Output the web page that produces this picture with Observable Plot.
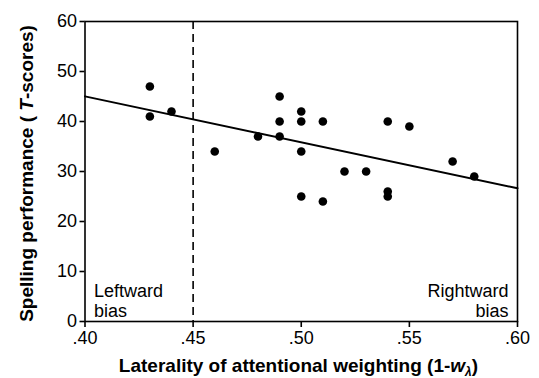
<!DOCTYPE html>
<html><head><meta charset="utf-8">
<script src="https://cdn.jsdelivr.net/npm/d3@7"></script>
<script src="https://cdn.jsdelivr.net/npm/@observablehq/plot@0.6"></script>
<style>body{margin:0;background:#fff}svg text{font-family:"Liberation Sans",Arial,sans-serif}</style>
</head><body><div id="chart"></div>
<script>
// Laterality of attentional weighting (1 - w_lambda)
const laterality = [0.43,0.43,0.44,0.46,0.48,0.49,0.49,0.49,0.50,0.50,0.50,0.50,0.51,0.51,0.52,0.53,0.54,0.54,0.54,0.55,0.57,0.58];
// Spelling performance (T-scores)
const spelling   = [47,41,42,34,37,45,40,37,42,40,34,25,40,24,30,30,40,26,25,39,32,29];
const xTicks = [0.40,0.45,0.50,0.55,0.60];
const yTicks = [0,10,20,30,40,50,60];
const cutoff = [0.45];
const biasLabels = ["Leftward\nbias","Rightward\nbias"];
const biasX = [0.40,0.60];

const points = laterality.map((x,i)=>({x, y: spelling[i]}));
// ordinary least squares fit, drawn across the x domain
const mx = d3.mean(laterality), my = d3.mean(spelling);
const slope = d3.sum(points, p=>(p.x-mx)*(p.y-my)) / d3.sum(points, p=>(p.x-mx)**2);
const fit = biasX.map(x=>({x, y: my + slope*(x-mx)}));

const font = '"Liberation Sans", Arial, sans-serif';
const chart = Plot.plot({
  width: 539, height: 378,
  marginLeft: 84.5, marginRight: 22, marginTop: 21, marginBottom: 57,
  style: {fontFamily: font, fontSize: "18px", color: "#000", background: "#fff"},
  x: {domain: [0.40,0.60]},
  y: {domain: [0,60]},
  marks: [
    Plot.ruleX(cutoff, {stroke:"#000", strokeWidth:1.6, strokeDasharray:"8,5"}),
    Plot.line(fit, {x:"x", y:"y", stroke:"#000", strokeWidth:2}),
    Plot.dot(points, {x:"x", y:"y", r:4.3, fill:"#000", stroke:"none"}),
    Plot.text(biasLabels.map((t,i)=>({t, x: biasX[i]})), {
      x:"x", y: ()=>0, text:"t", lineAnchor:"bottom", lineHeight:1.11, fontSize:18,
      render: (index, scales, values, dims, ctx, next) => {
        const g = next(index, scales, values, dims, ctx);
        d3.select(g).selectAll("text").each(function(_, j){
          const i = index[j];
          const left = values.x[i] < scales.x(0.5);
          d3.select(this).attr("text-anchor", left?"start":"end")
            .attr("transform", `translate(${values.x[i] + (left?9:-9)},${values.y[i]-5})`);
        });
        return g;
      }
    }),
    Plot.frame({stroke:"#000", strokeWidth:1.6}),
    Plot.axisY({ticks: yTicks, tickSize:5, tickPadding:3, label:null, fontSize:18, strokeWidth:1.6}),
    Plot.axisX({ticks: xTicks, tickSize:6, tickPadding:4, label:null, fontSize:18, strokeWidth:1.6,
      tickFormat: d=>d3.format(".2f")(d).replace(/^0/,"")})
  ]
});
const svg = d3.select(chart);
svg.selectAll("g[aria-label$='axis tick label'] text, g[aria-label='text'] text").style("font-size","18px");
const yt = svg.append("text").attr("transform","translate(33,173.5) rotate(-90)")
  .attr("text-anchor","middle")
  .style("font-weight","bold").style("font-size","19px").attr("fill","#000");
yt.append("tspan").text("Spelling performance ( ");
yt.append("tspan").style("font-style","italic").text("T");
yt.append("tspan").text("-scores)");
const xt = svg.append("text").attr("x",298.5).attr("y",372)
  .attr("text-anchor","middle")
  .style("font-weight","bold").style("font-size","19px").attr("fill","#000");
xt.append("tspan").text("Laterality of attentional weighting (1-");
xt.append("tspan").style("font-style","italic").text("w");
xt.append("tspan").style("font-style","italic").style("font-size","12px").attr("dy",4).text("λ");
xt.append("tspan").attr("dy",-4).text(")");
document.getElementById("chart").append(chart);
</script>
</body></html>
